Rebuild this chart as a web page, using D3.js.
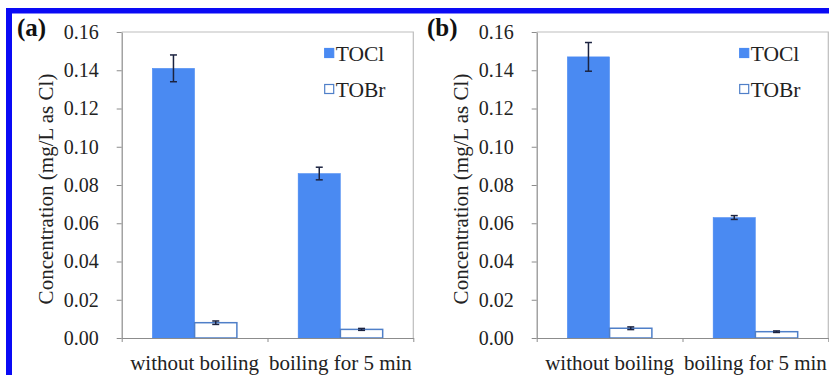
<!DOCTYPE html>
<html>
<head>
<meta charset="utf-8">
<script src="https://cdn.jsdelivr.net/npm/d3@7/dist/d3.min.js"></script>
</head>
<body style="margin:0;padding:0;background:#fff">
<svg id="chart" width="829" height="375" style="display:block"></svg>
<script>
// Sample conditions along the x axis
const categories = ["without boiling", "boiling for 5 min"];
const seriesNames = ["TOCl", "TOBr"];
const yTicks = [0, 0.02, 0.04, 0.06, 0.08, 0.10, 0.12, 0.14, 0.16];

// Panel (a): mean concentrations and error half-widths (mg/L as Cl)
const panelA_TOCl = [0.141, 0.086];
const panelA_TOCl_err = [0.007, 0.0033];
const panelA_TOBr = [0.0080, 0.0045];
const panelA_TOBr_err = [0.0009, 0.0005];

// Panel (b)
const panelB_TOCl = [0.147, 0.063];
const panelB_TOCl_err = [0.0075, 0.001];
const panelB_TOBr = [0.0051, 0.0033];
const panelB_TOBr_err = [0.0007, 0.0004];

const colors = { TOCl: "#4a8af2", TOBr: "#ffffff" };
const strokes = { TOCl: "#4a8af2", TOBr: "#4f7fc8" };
const serif = '"Liberation Serif"';

const svg = d3.select("#chart");

// Blue frame along the top and left edges
svg.append("rect").attr("x", 6).attr("y", 8).attr("width", 829).attr("height", 5.5).attr("fill", "#0a0af5");
svg.append("rect").attr("x", 6).attr("y", 8).attr("width", 6).attr("height", 375).attr("fill", "#0a0af5");

function drawPanel(opt) {
  const left = opt.left, right = opt.left + 291.6, top = 32, bottom = 338;
  const g = svg.append("g");

  const y = d3.scaleLinear().domain([0, 0.16]).range([bottom, top]);
  const x = d3.scaleBand().domain(categories).range([left, right]).paddingInner(0).paddingOuter(0);
  const bw = x.bandwidth();
  const xs = d3.scaleBand().domain(seriesNames).range([bw * 0.21, bw * 0.79]).padding(0);
  const xEdge = d3.scaleLinear().domain([0, categories.length]).range([left, right]);

  // Plot-area border (top and right)
  g.append("path")
    .attr("d", `M${left},${top}H${right}V${bottom}`)
    .attr("fill", "none").attr("stroke", "#bdbdbd").attr("stroke-width", 1.2);

  // Y axis
  const yAxis = g.append("g").attr("transform", `translate(${left},0)`)
    .call(d3.axisLeft(y).tickValues(yTicks).tickFormat(d3.format(".2f")).tickSize(5).tickSizeOuter(0).tickPadding(18));
  yAxis.select(".domain").attr("stroke", "#8c8c8c").attr("stroke-width", 1.2);
  yAxis.selectAll(".tick line").attr("stroke", "#8c8c8c");
  yAxis.selectAll(".tick text")
    .style("font-family", serif).style("font-size", "20px").style("fill", "#222");

  // Bars
  const data = [];
  categories.forEach((c, i) => {
    data.push({ c, s: "TOCl", v: opt.TOCl[i], e: opt.TOCl_err[i] });
    data.push({ c, s: "TOBr", v: opt.TOBr[i], e: opt.TOBr_err[i] });
  });

  g.selectAll("rect.bar").data(data).enter().append("rect")
    .attr("class", "bar")
    .attr("x", d => x(d.c) + xs(d.s))
    .attr("y", d => y(d.v))
    .attr("width", xs.bandwidth())
    .attr("height", d => y(0) - y(d.v))
    .attr("fill", d => colors[d.s])
    .attr("stroke", d => strokes[d.s])
    .attr("stroke-width", d => d.s === "TOBr" ? 1.5 : 0.5);

  // Error bars
  const eb = g.selectAll("g.err").data(data).enter().append("g").attr("class", "err")
    .attr("stroke", "#1c2340").attr("stroke-width", 1.5);
  const cx = d => x(d.c) + xs(d.s) + xs.bandwidth() / 2;
  eb.append("line").attr("x1", cx).attr("x2", cx).attr("y1", d => y(d.v + d.e)).attr("y2", d => y(d.v - d.e));
  eb.append("line").attr("x1", d => cx(d) - 3.5).attr("x2", d => cx(d) + 3.5).attr("y1", d => y(d.v + d.e)).attr("y2", d => y(d.v + d.e));
  eb.append("line").attr("x1", d => cx(d) - 3.5).attr("x2", d => cx(d) + 3.5).attr("y1", d => y(d.v - d.e)).attr("y2", d => y(d.v - d.e));

  // X axis with ticks at category boundaries
  const xAxis = g.append("g").attr("transform", `translate(0,${bottom})`)
    .call(d3.axisBottom(xEdge).tickValues(d3.range(categories.length + 1)).tickFormat("").tickSize(4).tickSizeOuter(0));
  xAxis.select(".domain").attr("stroke", "#8c8c8c").attr("stroke-width", 1.2);
  xAxis.selectAll(".tick line").attr("stroke", "#8c8c8c");

  g.selectAll("text.cat").data(categories).enter().append("text")
    .attr("class", "cat")
    .attr("x", d => x(d) + bw / 2)
    .attr("y", 370)
    .attr("text-anchor", "middle")
    .style("font-family", serif).style("font-size", "21px").style("fill", "#222")
    .text(d => d);

  // Y axis title
  g.append("text")
    .attr("transform", `translate(${left - 69},${189}) rotate(-90)`)
    .attr("text-anchor", "middle")
    .style("font-family", serif).style("font-size", "21px").style("fill", "#222")
    .text("Concentration (mg/L as Cl)");

  // Panel label
  g.append("text")
    .attr("x", opt.labelX).attr("y", 36)
    .style("font-family", serif).style("font-size", "25px").style("font-weight", "bold").style("fill", "#111")
    .text(opt.label);

  // Legend
  const lg = g.append("g").attr("transform", `translate(${left + 203},0)`);
  const ly = d3.scalePoint().domain(seriesNames).range([53, 89]);
  lg.selectAll("rect").data(seriesNames).enter().append("rect")
    .attr("x", 0).attr("y", d => ly(d) - 4.5)
    .attr("width", 9).attr("height", 9)
    .attr("fill", d => colors[d])
    .attr("stroke", d => strokes[d]).attr("stroke-width", 1.2);
  lg.selectAll("text").data(seriesNames).enter().append("text")
    .attr("x", 11).attr("y", d => ly(d) + 7.5)
    .style("font-family", serif).style("font-size", "21.5px").style("fill", "#222")
    .text(d => d);
}

drawPanel({ left: 121.7, label: "(a)", labelX: 17,
  TOCl: panelA_TOCl, TOCl_err: panelA_TOCl_err, TOBr: panelA_TOBr, TOBr_err: panelA_TOBr_err });
drawPanel({ left: 536.7, label: "(b)", labelX: 427,
  TOCl: panelB_TOCl, TOCl_err: panelB_TOCl_err, TOBr: panelB_TOBr, TOBr_err: panelB_TOBr_err });
</script>
</body>
</html>
